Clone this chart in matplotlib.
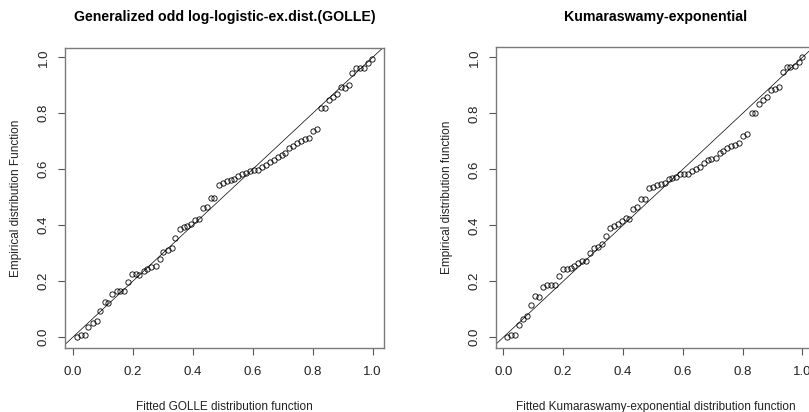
import matplotlib
matplotlib.use("Agg")
import matplotlib.pyplot as plt

plt.rcParams["font.family"] = ["Liberation Sans", "DejaVu Sans"]

# GOLLE panel: fitted cdf vs empirical cdf
golle_fit = [0.013, 0.028, 0.041, 0.052, 0.067, 0.080, 0.091, 0.107, 0.118, 0.132,
             0.147, 0.158, 0.171, 0.184, 0.199, 0.210, 0.222, 0.236, 0.247, 0.262,
             0.276, 0.291, 0.302, 0.317, 0.330, 0.342, 0.356, 0.370, 0.382, 0.394,
             0.409, 0.422, 0.434, 0.448, 0.460, 0.472, 0.488, 0.501, 0.513, 0.527,
             0.539, 0.551, 0.566, 0.578, 0.590, 0.604, 0.617, 0.630, 0.643, 0.658,
             0.670, 0.683, 0.697, 0.709, 0.722, 0.736, 0.747, 0.760, 0.773, 0.787,
             0.802, 0.816, 0.828, 0.841, 0.853, 0.869, 0.882, 0.893, 0.907, 0.920,
             0.932, 0.944, 0.958, 0.971, 0.984, 0.998]
golle_emp = [0.000, 0.008, 0.008, 0.036, 0.052, 0.058, 0.095, 0.126, 0.124, 0.155,
             0.165, 0.165, 0.165, 0.199, 0.226, 0.226, 0.221, 0.235, 0.243, 0.251,
             0.255, 0.279, 0.304, 0.311, 0.318, 0.354, 0.385, 0.394, 0.399, 0.406,
             0.419, 0.424, 0.460, 0.467, 0.498, 0.498, 0.543, 0.552, 0.557, 0.561,
             0.564, 0.577, 0.585, 0.587, 0.593, 0.599, 0.599, 0.610, 0.615, 0.627,
             0.635, 0.645, 0.651, 0.657, 0.676, 0.685, 0.694, 0.700, 0.707, 0.711,
             0.737, 0.743, 0.818, 0.818, 0.848, 0.860, 0.869, 0.893, 0.889, 0.901,
             0.945, 0.961, 0.961, 0.961, 0.979, 0.994]

# Kumaraswamy-exponential panel
kwe_fit = [0.013, 0.027, 0.040, 0.053, 0.067, 0.080, 0.092, 0.107, 0.119, 0.133,
           0.146, 0.158, 0.172, 0.186, 0.198, 0.212, 0.225, 0.237, 0.251, 0.264,
           0.276, 0.290, 0.303, 0.316, 0.330, 0.343, 0.357, 0.370, 0.382, 0.396,
           0.409, 0.421, 0.435, 0.448, 0.460, 0.474, 0.488, 0.501, 0.514, 0.527,
           0.539, 0.553, 0.565, 0.578, 0.592, 0.605, 0.618, 0.632, 0.645, 0.658,
           0.671, 0.684, 0.696, 0.710, 0.723, 0.735, 0.749, 0.762, 0.774, 0.789,
           0.802, 0.816, 0.830, 0.842, 0.856, 0.869, 0.882, 0.896, 0.909, 0.920,
           0.934, 0.947, 0.960, 0.974, 0.987, 0.998]
kwe_emp = [0.000, 0.008, 0.008, 0.044, 0.064, 0.076, 0.115, 0.148, 0.145, 0.181,
           0.187, 0.187, 0.187, 0.219, 0.245, 0.245, 0.246, 0.256, 0.264, 0.273,
           0.273, 0.300, 0.320, 0.324, 0.332, 0.363, 0.392, 0.398, 0.405, 0.415,
           0.425, 0.423, 0.458, 0.467, 0.494, 0.494, 0.535, 0.538, 0.544, 0.546,
           0.552, 0.565, 0.570, 0.574, 0.582, 0.583, 0.582, 0.595, 0.600, 0.610,
           0.621, 0.633, 0.638, 0.642, 0.657, 0.667, 0.677, 0.685, 0.687, 0.693,
           0.719, 0.725, 0.800, 0.802, 0.833, 0.848, 0.857, 0.883, 0.887, 0.893,
           0.949, 0.967, 0.967, 0.969, 0.985, 1.000]

ticks = [0.0, 0.2, 0.4, 0.6, 0.8, 1.0]
tick_labels = ["0.0", "0.2", "0.4", "0.6", "0.8", "1.0"]

panels = [
    ("Generalized odd log-logistic-ex.dist.(GOLLE)", golle_fit, golle_emp,
     "Fitted GOLLE distribution function", "Empirical distribution Function"),
    ("Kumaraswamy-exponential", kwe_fit, kwe_emp,
     "Fitted Kumaraswamy-exponential distribution function", "Empirical distribution function"),
]

fig = plt.figure(figsize=(8.09, 4.12), dpi=100)
fig.patch.set_facecolor("white")

# the right panel runs a little past the figure edge, as in the original
positions = [
    [65 / 809, 63.7 / 412, 319.3 / 809, 300.6 / 412],
    [496 / 809, 63.7 / 412, 319.3 / 809, 301.3 / 412],
]
xlims = [(-0.0257, 1.0387), (-0.0244, 1.043)]
ylims = [(-0.0393, 1.0343), (-0.0393, 1.037)]

text_color = "#222222"
box_color = "#7a7a7a"

for i, (title, fit, emp, xlab, ylab) in enumerate(panels):
    ax = fig.add_axes(positions[i])
    ax.plot(fit, emp, linestyle="none", marker="o", markersize=3.8,
            markerfacecolor="none", markeredgecolor="black", markeredgewidth=0.6)
    ax.axline((0, 0), (1, 1), color="black", linewidth=0.5)
    ax.set_xlim(*xlims[i])
    ax.set_ylim(*ylims[i])

    ax.set_xticks(ticks)
    ax.set_xticklabels(tick_labels)
    ax.set_yticks(ticks)
    ax.set_yticklabels(tick_labels, rotation=90, va="center")
    ax.tick_params(direction="out", length=5, width=0.8, colors="#555555",
                   labelcolor=text_color, labelsize=9.5)
    ax.tick_params(axis="x", pad=8)
    ax.tick_params(axis="y", pad=6)

    for sp in ax.spines.values():
        sp.set_color(box_color)
        sp.set_linewidth(1.0)

    ax.set_title(title, fontsize=10.2, fontweight="bold", color="black", pad=19)
    ax.set_xlabel(xlab, fontsize=8.5, color=text_color, labelpad=16)
    ax.set_ylabel(ylab, fontsize=8.5, color=text_color, labelpad=11)

plt.savefig("out.png", dpi=100, facecolor="white")
plt.close()
